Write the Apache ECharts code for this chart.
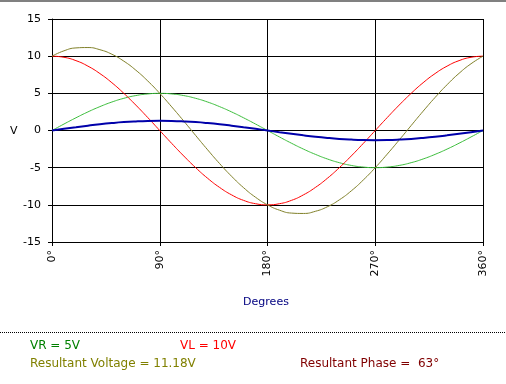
<!DOCTYPE html>
<html><head><meta charset="utf-8">
<script src="https://cdn.jsdelivr.net/npm/echarts@6/dist/echarts.min.js"></script>
<style>html,body{margin:0;padding:0;background:#fff}#c{width:506px;height:384px}</style>
</head><body><div id="c"></div>
<script>
var degrees = [0,10,20,30,40,50,60,70,80,90,100,110,120,130,140,150,160,170,180,190,200,210,220,230,240,250,260,270,280,290,300,310,320,330,340,350,360];
var vL = [10,9.85,9.4,8.66,7.66,6.43,5,3.42,1.74,0,-1.74,-3.42,-5,-6.43,-7.66,-8.66,-9.4,-9.85,-10,-9.85,-9.4,-8.66,-7.66,-6.43,-5,-3.42,-1.74,0,1.74,3.42,5,6.43,7.66,8.66,9.4,9.85,10];
var vR = [0,0.87,1.71,2.5,3.21,3.83,4.33,4.7,4.92,5,4.92,4.7,4.33,3.83,3.21,2.5,1.71,0.87,0,-0.87,-1.71,-2.5,-3.21,-3.83,-4.33,-4.7,-4.92,-5,-4.92,-4.7,-4.33,-3.83,-3.21,-2.5,-1.71,-0.87,0];
var vRes = [10,10.72,11.11,11.16,10.87,10.26,9.33,8.12,6.66,5,3.18,1.28,-0.67,-2.6,-4.45,-6.16,-7.69,-8.98,-10,-10.72,-11.11,-11.16,-10.87,-10.26,-9.33,-8.12,-6.66,-5,-3.18,-1.28,0.67,2.6,4.45,6.16,7.69,8.98,10];
var current = [0,0.23,0.44,0.65,0.84,1.0,1.13,1.22,1.28,1.3,1.28,1.22,1.13,1.0,0.84,0.65,0.44,0.23,0,-0.23,-0.44,-0.65,-0.84,-1.0,-1.13,-1.22,-1.28,-1.3,-1.28,-1.22,-1.13,-1.0,-0.84,-0.65,-0.44,-0.23,0];
var xTicks = [0,90,180,270,360];
var yTicks = [-15,-10,-5,0,5,10,15];

function pairs(v){ return degrees.map(function(d,i){ return [d, v[i]]; }); }
var font = 'DejaVu Sans';
var chart = echarts.init(document.getElementById('c'), null, {renderer:'canvas'});
chart.setOption({
  animation:false,
  backgroundColor:'#ffffff',
  grid:{left:52, right:23, top:19, bottom:142, containLabel:false},
  xAxis:{type:'value', min:xTicks[0], max:xTicks[xTicks.length-1], interval:90,
    axisLine:{show:true, onZero:false, lineStyle:{color:'#000', width:1}},
    axisTick:{show:true, length:4, lineStyle:{color:'#000'}},
    splitLine:{show:true, lineStyle:{color:'#000', width:1}},
    axisLabel:{rotate:90, margin:8, color:'#000', fontFamily:font, fontSize:11, formatter:function(v){return v+'°';}}
  },
  yAxis:{type:'value', min:yTicks[0], max:yTicks[yTicks.length-1], interval:5,
    axisLine:{show:true, lineStyle:{color:'#000', width:1}},
    axisTick:{show:true, length:4, lineStyle:{color:'#000'}},
    splitLine:{show:true, lineStyle:{color:'#000', width:1}},
    axisLabel:{margin:11, color:'#000', fontFamily:font, fontSize:11}
  },
  series:[
    {type:'line', data:pairs(vR), smooth:true, symbol:'none', lineStyle:{color:'#3cbe3c', width:1}},
    {type:'line', data:pairs(vL), smooth:true, symbol:'none', lineStyle:{color:'#ff0000', width:1}},
    {type:'line', data:pairs(vRes), smooth:true, symbol:'none', lineStyle:{color:'#808028', width:1}},
    {type:'line', data:pairs(current), smooth:true, symbol:'none', lineStyle:{color:'#0000aa', width:2}}
  ],
  graphic:[
    {type:'rect', shape:{x:0,y:0,width:506,height:2}, style:{fill:'#808080'}},
    {type:'line', shape:{x1:0,y1:332.5,x2:505,y2:332.5}, style:{stroke:'#000', lineWidth:1, lineDash:[1,1]}},
    {type:'text', x:10, y:131, style:{text:'V', fontFamily:font, fontSize:11, fill:'#000', verticalAlign:'middle'}},
    {type:'text', x:266, y:302, style:{text:'Degrees', fontFamily:font, fontSize:11, fill:'#000080', align:'center', verticalAlign:'middle'}},
    {type:'text', x:30, y:346, style:{text:'VR = 5V', fontFamily:font, fontSize:12, fill:'#008000', verticalAlign:'middle'}},
    {type:'text', x:180, y:346, style:{text:'VL = 10V', fontFamily:font, fontSize:12, fill:'#ff0000', verticalAlign:'middle'}},
    {type:'text', x:30, y:364, style:{text:'Resultant Voltage = 11.18V', fontFamily:font, fontSize:12, fill:'#808000', verticalAlign:'middle'}},
    {type:'text', x:300, y:364, style:{text:'Resultant Phase =  63°', fontFamily:font, fontSize:12, fill:'#800000', verticalAlign:'middle'}}
  ]
});
</script></body></html>
